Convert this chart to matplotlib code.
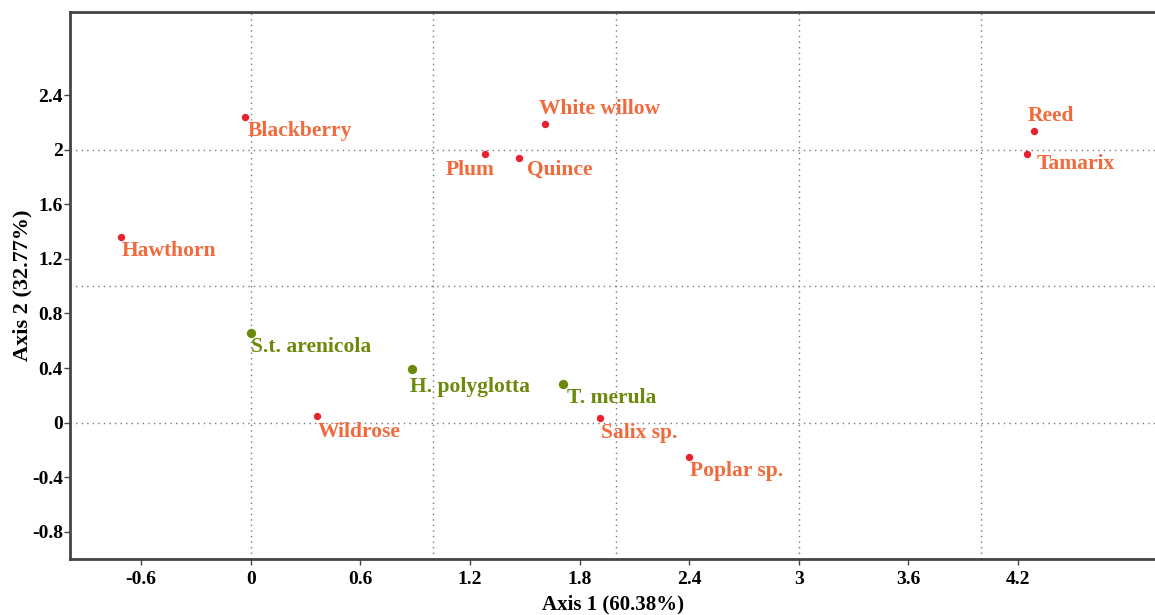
import numpy as np
import matplotlib
matplotlib.use('Agg')
from matplotlib import pyplot as plt

# plant species (red points)
plants = ['Blackberry', 'Hawthorn', 'White willow', 'Plum', 'Quince', 'Reed',
          'Tamarix', 'Wildrose', 'Salix sp.', 'Poplar sp.']
plant_x = [-0.03, -0.71, 1.61, 1.28, 1.47, 4.29, 4.25, 0.36, 1.91, 2.40]
plant_y = [2.24, 1.36, 2.19, 1.97, 1.94, 2.14, 1.97, 0.05, 0.03, -0.25]
# label offsets in pixels (dx, dy)
plant_off = [(2, -14), (1, -14), (-6, 15), (-39, -16), (8, -12), (-7, 15),
             (9, -10), (1, -16), (1, -15), (1, -14)]

# bird species (green points)
birds = ['S.t. arenicola', 'H. polyglotta', 'T. merula']
bird_x = [0.0, 0.88, 1.71]
bird_y = [0.66, 0.39, 0.28]
bird_off = [(0, -14), (-2, -18), (4, -14)]

red = '#e8202f'
orange = '#f26a3c'
green = '#6b8a0c'

plt.rcParams['font.family'] = ['Liberation Serif', 'DejaVu Serif']
plt.rcParams['font.weight'] = 'bold'

fig = plt.figure(figsize=(11.55, 6.15), dpi=100)
ax = fig.add_axes([70 / 1155, 1 - 559 / 615, 1 - 70 / 1155, (559 - 12) / 615])

for g in [0, 1, 2, 3, 4]:
    ax.axvline(g, color='#777777', lw=1, ls=(0, (1, 3)), zorder=0)
for g in [0, 1, 2]:
    ax.axhline(g, color='#777777', lw=1, ls=(0, (1, 3)), zorder=0)

ax.scatter(plant_x, plant_y, s=28, color=red, zorder=3, linewidths=0)
ax.scatter(bird_x, bird_y, s=45, color=green, zorder=3, linewidths=0)

for name, x, y, off in zip(plants, plant_x, plant_y, plant_off):
    ax.annotate(name, (x, y), xytext=off, textcoords='offset pixels',
                color=orange, fontsize=15.5, fontweight='bold',
                ha='left', va='center')
for name, x, y, off in zip(birds, bird_x, bird_y, bird_off):
    ax.annotate(name, (x, y), xytext=off, textcoords='offset pixels',
                color=green, fontsize=15.5, fontweight='bold',
                ha='left', va='center')

ax.set_xlim(-0.99, 4.95)
ax.set_ylim(-1, 3.01)
ax.set_xticks([-0.6, 0, 0.6, 1.2, 1.8, 2.4, 3, 3.6, 4.2])
ax.set_xticklabels(['-0.6', '0', '0.6', '1.2', '1.8', '2.4', '3', '3.6', '4.2'])
ax.set_yticks([-0.8, -0.4, 0, 0.4, 0.8, 1.2, 1.6, 2, 2.4])
ax.set_yticklabels(['-0.8', '-0.4', '0', '0.4', '0.8', '1.2', '1.6', '2', '2.4'])
ax.tick_params(labelsize=14, length=4, width=1, color='#444444')
ax.tick_params(axis='y', pad=1)
ax.tick_params(axis='x', pad=5)

for s in ['left', 'bottom', 'top']:
    ax.spines[s].set_color('#444444')
    ax.spines[s].set_linewidth(2)
ax.spines['right'].set_visible(False)

ax.set_xlabel('Axis 1 (60.38%)', fontsize=15, fontweight='bold', labelpad=4)
ax.set_ylabel('Axis 2 (32.77%)', fontsize=16, fontweight='bold')
ax.yaxis.set_label_coords(-0.044, 0.5)
ax.yaxis.label.set_va('center')

fig.savefig('out.png', dpi=100)
